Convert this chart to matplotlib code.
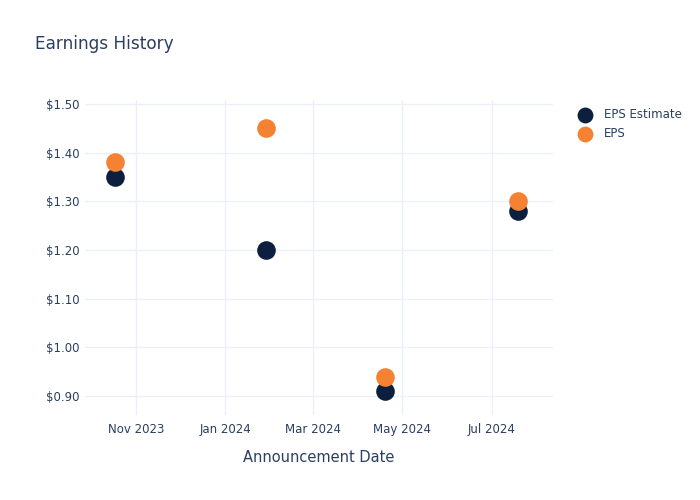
import matplotlib
matplotlib.use("Agg")
import matplotlib.pyplot as plt
import matplotlib.dates as mdates
import numpy as np
from matplotlib.ticker import FuncFormatter

# data
dates = np.array(["2023-10-18", "2024-01-29", "2024-04-19", "2024-07-19"], dtype="datetime64[D]")
eps_estimate = [1.35, 1.20, 0.91, 1.28]
eps_actual = [1.38, 1.45, 0.94, 1.30]
labels = ["EPS Estimate", "EPS"]

text_col = "#2a3f5f"
grid_col = "#ebf0f8"

fig = plt.figure(figsize=(7, 5), dpi=100)
ax = fig.add_axes([0.121, 0.17, 0.669, 0.63])

ax.scatter(dates, eps_estimate, s=180, color="#0c1f3f", label=labels[0], zorder=3, linewidths=0)
ax.scatter(dates, eps_actual, s=180, color="#f58233", label=labels[1], zorder=4, linewidths=0)

ax.set_xlim(np.datetime64("2023-09-27"), np.datetime64("2024-08-12"))
ax.set_ylim(0.861, 1.508)
ax.set_yticks(np.arange(0.9, 1.51, 0.1))
ax.yaxis.set_major_formatter(FuncFormatter(lambda v, p: f"${v:.2f}"))
ax.xaxis.set_major_locator(mdates.MonthLocator(bymonth=[1, 3, 5, 7, 11]))
ax.xaxis.set_major_formatter(mdates.DateFormatter("%b %Y"))

ax.grid(True, color=grid_col, linewidth=1)
ax.set_axisbelow(True)
for s in ax.spines.values():
    s.set_visible(False)
ax.tick_params(length=0, labelsize=8.5, colors=text_col, pad=6)
ax.tick_params(axis="y", pad=4)

ax.set_xlabel("Announcement Date", fontsize=10.5, color=text_col, labelpad=10)
fig.text(0.05, 0.912, "Earnings History", fontsize=12.2, color=text_col, va="center")

leg = ax.legend(loc="upper left", bbox_to_anchor=(1.025, 1.0), frameon=False,
                fontsize=8.5, labelcolor=text_col, handletextpad=0.6,
                labelspacing=0.5, markerscale=0.85, borderaxespad=0.3)

fig.savefig("out.png", dpi=100)
